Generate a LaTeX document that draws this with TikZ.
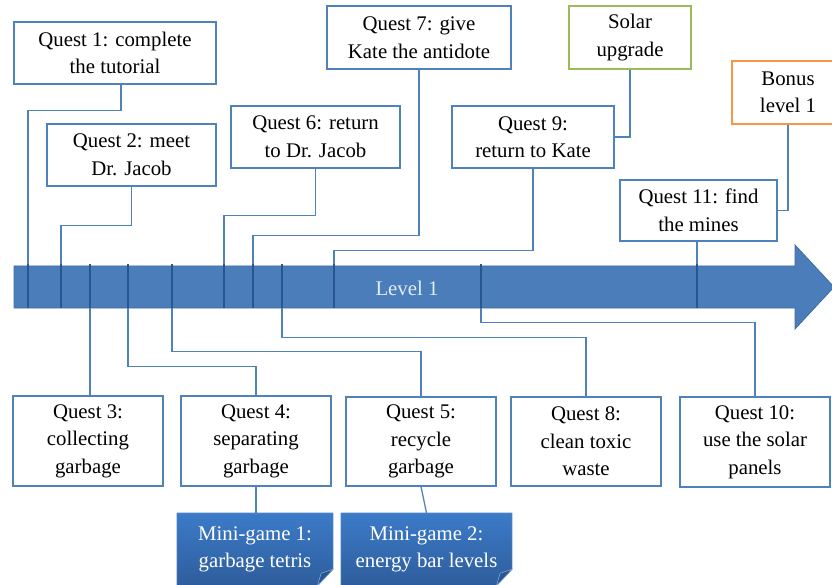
\documentclass[tikz,border=0pt]{standalone}
\usepackage{fontspec}
\setmainfont{Liberation Serif}
\usetikzlibrary{backgrounds}
\definecolor{bx}{HTML}{4F81BD}
\definecolor{tickc}{HTML}{2A5690}
\definecolor{arrowfill}{HTML}{4A7DBA}
\definecolor{arrowline}{HTML}{3F6DA3}
\definecolor{solarc}{HTML}{9BBB59}
\definecolor{bonusc}{HTML}{F79646}
\definecolor{mgtop}{HTML}{3C7BC8}
\definecolor{mgbot}{HTML}{2E5D9C}
\definecolor{foldc}{HTML}{2A5790}
\definecolor{levelc}{HTML}{E4ECF6}
\begin{document}
\begin{tikzpicture}[x=1pt,y=-1pt,
  qfont/.style={font=\fontsize{20.8}{27.5}\selectfont},
  qbox/.style={draw=bx, line width=1.3pt, fill=white, inner sep=0pt, align=center, qfont},
  conn/.style={draw=bx, line width=1.3pt},
  tickmark/.style={fill=tickc, draw=none, inner sep=0pt, minimum width=1.8pt, minimum height=44pt},
  mgbox/.style={inner sep=0pt, align=center, text=white, qfont}
]
\useasboundingbox (0,0) rectangle (832,585);
\clip (0,0) rectangle (832,585);

% main arrow
\filldraw[fill=arrowfill, draw=arrowline, line width=0.8pt]
  (14,266) -- (795,266) -- (795,245) -- (834,287) -- (795,329) -- (795,308) -- (14,308) -- cycle;
\node[text=levelc, qfont] (lvl) at (407,288) {Level 1};

% tick marks
\foreach \n/\x in {1/28,2/61,3/90,4/128,5/172,6/224,7/253,8/282,9/334,10/481,11/697}
  \node[tickmark] (k\n) at (\x,286) {};

% top boxes
\node[qbox, minimum width=202pt, minimum height=62pt] (q1) at (115,53) {Quest 1: complete\\the tutorial};
\node[qbox, minimum width=169pt, minimum height=62pt] (q2) at (131.5,155) {Quest 2: meet\\Dr. Jacob};
\node[qbox, minimum width=169pt, minimum height=62pt] (q6) at (315.5,137) {Quest 6: return\\to Dr. Jacob};
\node[qbox, minimum width=184pt, minimum height=63pt] (q7) at (419,37.5) {Quest 7: give\\Kate the antidote};
\node[qbox, minimum width=162pt, minimum height=62pt] (q9) at (533,137) {Quest 9:\\return to Kate};
\node[qbox, draw=solarc, minimum width=122pt, minimum height=63pt] (solar) at (630,37.5) {Solar\\upgrade};
\node[qbox, draw=bonusc, minimum width=112pt, minimum height=63pt] (bonus) at (788,92.5) {Bonus\\level 1};
\node[qbox, minimum width=157pt, minimum height=61pt] (q11) at (698.5,210.5) {Quest 11: find\\the mines};

% bottom boxes
\node[qbox, minimum width=150pt, minimum height=90pt] (q3) at (88,441) {Quest 3:\\collecting\\garbage};
\node[qbox, minimum width=150pt, minimum height=90pt] (q4) at (256,441) {Quest 4:\\separating\\garbage};
\node[qbox, minimum width=150pt, minimum height=89pt] (q5) at (421,441.5) {Quest 5:\\recycle\\garbage};
\node[qbox, minimum width=150pt, minimum height=89pt] (q8) at (586,441.5) {Quest 8:\\clean toxic\\waste};
\node[qbox, minimum width=150pt, minimum height=90pt] (q10) at (755,442) {Quest 10:\\use the solar\\panels};

% mini-game boxes
\node[mgbox, minimum width=156pt, minimum height=73pt] (mg1) at (255,549.5) {Mini-game 1:\\garbage tetris};
\node[mgbox, minimum width=171pt, minimum height=73pt] (mg2) at (426.5,549.5) {Mini-game 2:\\energy bar levels};
\begin{pgfonlayer}{background}
\foreach \m in {mg1,mg2}{
  \shade[top color=mgtop, bottom color=mgbot, draw=mgtop!70!white, line width=0.5pt]
    (\m.north west) -- (\m.north east) -- ([yshift=17pt]\m.south east)
    -- ([xshift=-16pt]\m.south east) -- (\m.south west) -- cycle;
  \filldraw[fill=foldc, draw=mgtop!60!white, line width=0.5pt]
    ([yshift=17pt]\m.south east) -- ([xshift=-12pt,yshift=13pt]\m.south east)
    -- ([xshift=-16pt]\m.south east) -- cycle;
}
\end{pgfonlayer}

% top connectors
\draw[conn] ([xshift=6pt]q1.south) -- ++(0,26) -| (k1.north);
\draw[conn] (q2.south) -- ++(0,39) -| (k2.north);
\draw[conn] (q6.south) -- ++(0,47) -| (k6.north);
\draw[conn] (q7.south) -- ++(0,166) -| (k7.north);
\draw[conn] (q9.south) -- ++(0,82) -| (k9.north);
\draw[conn] (k11.north |- q11.south) -- (k11.north);
\draw[conn] (solar.south) |- (q9.east);
\draw[conn] (bonus.south) |- (q11.east);

% bottom connectors
\draw[conn] (k3.south) -- (k3.south |- q3.north);
\draw[conn] (k4.south) -- ++(0,58) -| (q4.north);
\draw[conn] (k5.south) -- ++(0,43) -| (q5.north);
\draw[conn] (k8.south) -- ++(0,29) -| (q8.north);
\draw[conn] (k10.south) -- ++(0,14) -| (q10.north);
\draw[conn] (q4.south) -- (q4.south |- mg1.north);
\draw[conn] (q5.south) -- (mg2.north);
\end{tikzpicture}
\end{document}
